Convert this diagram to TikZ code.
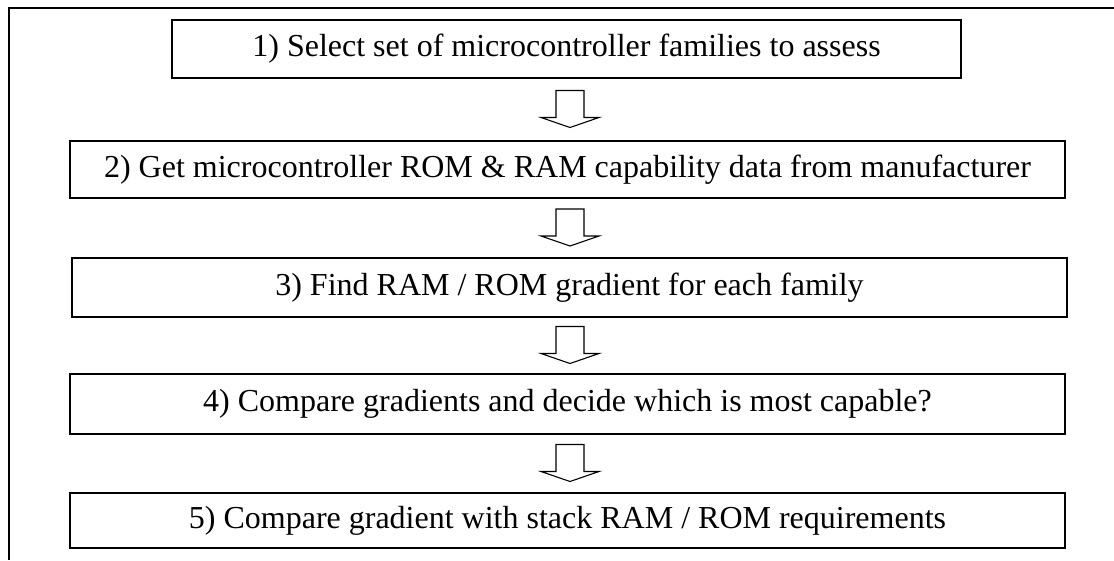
\documentclass[tikz,border=0pt]{standalone}
\usepackage{fontspec}
\setmainfont{Liberation Serif}
\usetikzlibrary{calc}
\begin{document}
\begin{tikzpicture}[x=1pt,y=-1pt,
  stepbox/.style={draw, line width=1.3pt, inner sep=0pt, font=\fontsize{32}{38}\selectfont},
  frameline/.style={line width=1.8pt},
  blockarrow/.style={draw, line width=1.1pt, line join=miter}]
\useasboundingbox (0,0) rectangle (1114,560);
\draw[frameline] (1114,8) -- (9,8) -- (9,560);
\node[stepbox, minimum width=789pt, minimum height=58pt] (s1) at (566.5,49) {1) Select set of microcontroller families to assess};
\node[stepbox, minimum width=995pt, minimum height=57pt] (s2) at (567.5,169.5) {2) Get microcontroller ROM \& RAM capability data from manufacturer};
\node[stepbox, minimum width=995pt, minimum height=59pt] (s3) at (569.5,287.5) {3) Find RAM / ROM gradient for each family};
\node[stepbox, minimum width=995pt, minimum height=60pt] (s4) at (567.5,404) {4) Compare gradients and decide which is most capable?};
\node[stepbox, minimum width=995pt, minimum height=55pt] (s5) at (567.5,520.5) {5) Compare gradient with stack RAM / ROM requirements};
\foreach \a/\b in {s1/s2, s2/s3, s3/s4, s4/s5}{
  \path[blockarrow] let \p1=(\a.south), \p2=(\b.north), \n1={(\y1+\y2)/2} in
    (556pt,\n1+19pt) -- (584pt,\n1+19pt) -- (584pt,\n1-8pt) -- (599pt,\n1-8pt)
    -- (570pt,\n1-18pt) -- (541pt,\n1-8pt) -- (556pt,\n1-8pt) -- cycle;
}
\end{tikzpicture}
\end{document}
